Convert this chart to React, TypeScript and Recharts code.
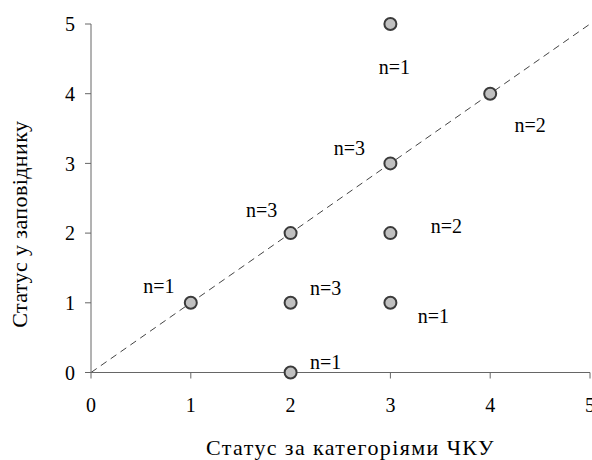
import React from 'react';
import { ScatterChart, Scatter, XAxis, YAxis, ReferenceLine } from 'recharts';

const xTicks = [0, 1, 2, 3, 4, 5];
const yTicks = [0, 1, 2, 3, 4, 5];

const pointX = [1, 2, 2, 2, 3, 3, 3, 3, 4];
const pointY = [1, 0, 1, 2, 1, 2, 3, 5, 4];

const noteText = ['n=1', 'n=1', 'n=3', 'n=3', 'n=1', 'n=2', 'n=3', 'n=1', 'n=2'];
const noteX = [0.68, 2.35, 2.35, 1.71, 3.43, 3.56, 2.59, 3.04, 4.4];
const noteY = [1.24, 0.15, 1.2, 2.33, 0.81, 2.09, 3.21, 4.37, 3.54];

const points = pointX.map((x, i) => ({ x, y: pointY[i] }));
const notes = noteX.map((x, i) => ({ x, y: noteY[i], t: noteText[i] }));

const FONT = "'Liberation Serif', 'Times New Roman', 'DejaVu Serif', serif";
const FS = 20;
const textStyle = { fontFamily: FONT, fontSize: FS };
const xTitleStyle = { fontFamily: FONT, fontSize: 22, letterSpacing: 1.4 };
const yTitleStyle = { fontFamily: FONT, fontSize: 22, letterSpacing: 0.4 };

const NoteShape = (props: any) => (
  <text x={props.cx} y={props.cy} dy={6.5} textAnchor="middle" style={textStyle} fill="#000">
    {props.payload.t}
  </text>
);

const Dot = (props: any) => (
  <circle cx={props.cx} cy={props.cy} r={6} fill="#c0c0c0" stroke="#3a3a3a" strokeWidth={2} />
);

const XTitle = (props: any) => {
  const vb = props.viewBox;
  return (
    <text x={vb.x + vb.width / 2 + 10} y={455} textAnchor="middle" style={xTitleStyle} fill="#000">
      Статус за категоріями ЧКУ
    </text>
  );
};

const YTitle = (props: any) => {
  const vb = props.viewBox;
  const cx = 27;
  const cy = vb.y + vb.height / 2 + 26;
  return (
    <text
      x={cx}
      y={cy}
      transform={`rotate(-90, ${cx}, ${cy})`}
      textAnchor="middle"
      style={yTitleStyle}
      fill="#000"
    >
      Статус у заповіднику
    </text>
  );
};

export default function App() {
  return (
    <div style={{ position: 'absolute', left: 0, top: 0, width: 592, height: 460, fontFamily: FONT }}>
      <ScatterChart width={592} height={460} margin={{ top: 24, right: 2, left: 0, bottom: 27.5 }} style={{ fontFamily: FONT }}>
        <XAxis
          type="number"
          dataKey="x"
          domain={[0, 5]}
          ticks={xTicks}
          interval={0}
          height={60}
          stroke="#666"
          tickSize={6}
          tickMargin={19}
          tick={{ fill: '#000', style: textStyle }}
          fontFamily={FONT}
          fontSize={FS}
          label={<XTitle />}
        />
        <YAxis
          type="number"
          dataKey="y"
          domain={[0, 5]}
          ticks={yTicks}
          interval={0}
          width={91}
          stroke="#666"
          tickSize={6}
          tickMargin={10}
          tick={{ fill: '#000', style: textStyle }}
          fontFamily={FONT}
          fontSize={FS}
          label={<YTitle />}
        />
        <ReferenceLine
          segment={[{ x: 0, y: 0 }, { x: 5, y: 5 }]}
          stroke="#444"
          strokeWidth={1}
          strokeDasharray="7 5"
        />
        <Scatter data={notes} shape={<NoteShape />} isAnimationActive={false} />
        <Scatter data={points} shape={<Dot />} isAnimationActive={false} />
      </ScatterChart>
    </div>
  );
}
